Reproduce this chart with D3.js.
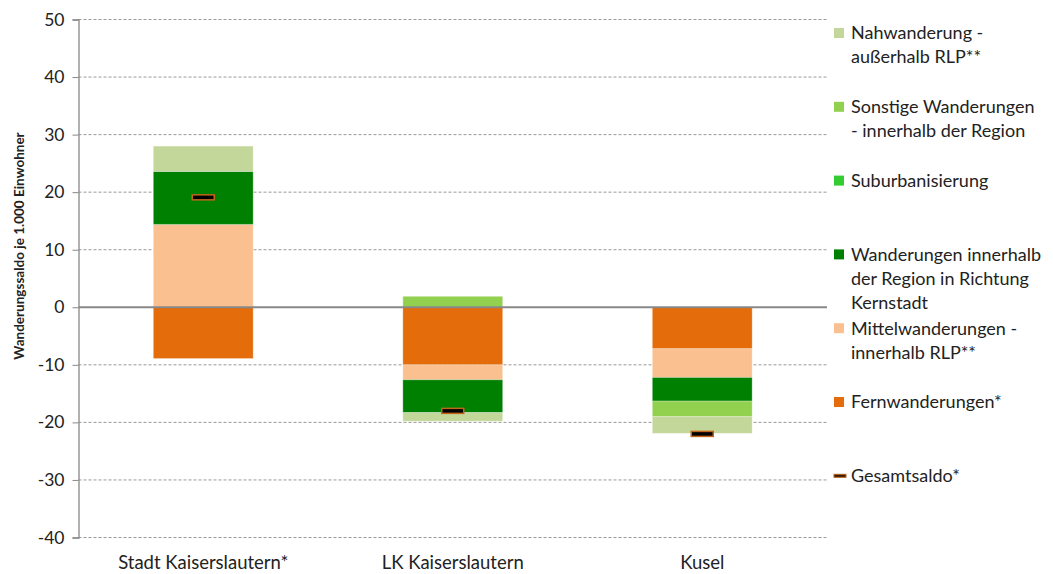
<!DOCTYPE html>
<html>
<head>
<meta charset="utf-8">
<script src="https://cdn.jsdelivr.net/npm/d3@7"></script>
<style>
  body { margin: 0; background: #fff; }
  svg { display: block; font-family: Lato, "Open Sans", sans-serif; }
</style>
</head>
<body>
<svg id="chart" width="1053" height="574"></svg>
<script>
// ---- data ----
const categories = ["Stadt Kaiserslautern*", "LK Kaiserslautern", "Kusel"];
const fernwanderungen   = [-8.9, -10.0, -7.2];
const mittelwanderungen = [14.4, -2.6, -5.0];
const wanderungenRegion = [9.2, -5.7, -4.1];
const suburbanisierung  = [0, 0, 0];
const sonstigeWanderung = [0, 1.9, -2.7];
const nahwanderung      = [4.4, -1.5, -2.9];
const gesamtsaldo       = [19.1, -18.0, -22.0];
const yTicks = [-40, -30, -20, -10, 0, 10, 20, 30, 40, 50];

const seriesKeys = ["fern", "mittel", "wir", "suburb", "sonstige", "nah"];
const seriesColors = {
  fern: "#E46C0A", mittel: "#FAC090", wir: "#008000",
  suburb: "#33CC33", sonstige: "#92D050", nah: "#C4D79B"
};
const legendItems = [
  { key: "nah", lines: ["Nahwanderung -", "außerhalb RLP**"] },
  { key: "sonstige", lines: ["Sonstige Wanderungen", "- innerhalb der Region"] },
  { key: "suburb", lines: ["Suburbanisierung"] },
  { key: "wir", lines: ["Wanderungen innerhalb", "der Region in Richtung", "Kernstadt"] },
  { key: "mittel", lines: ["Mittelwanderungen -", "innerhalb RLP**"] },
  { key: "fern", lines: ["Fernwanderungen*"] },
  { key: "gesamt", lines: ["Gesamtsaldo*"] }
];

const table = categories.map((c, i) => ({
  cat: c,
  fern: fernwanderungen[i], mittel: mittelwanderungen[i], wir: wanderungenRegion[i],
  suburb: suburbanisierung[i], sonstige: sonstigeWanderung[i], nah: nahwanderung[i],
  gesamt: gesamtsaldo[i]
}));

// ---- layout ----
const svg = d3.select("#chart");
const plot = { left: 78.5, right: 827, top: 19.5, bottom: 537.5 };

const x = d3.scaleBand().domain(categories).range([plot.left, plot.right])
  .paddingInner(0.6).paddingOuter(0.3);
const y = d3.scaleLinear().domain([-40, 50]).range([plot.bottom, plot.top]);

// gridlines
svg.append("g").selectAll("line").data(yTicks.filter(t => t !== 0)).join("line")
  .attr("x1", plot.left).attr("x2", plot.right)
  .attr("y1", d => y(d)).attr("y2", d => y(d))
  .attr("stroke", "#999").attr("stroke-width", 1).attr("stroke-dasharray", "3,2");

// y axis
const yAxis = d3.axisLeft(y).tickValues(yTicks).tickSize(6).tickPadding(8)
  .tickFormat(d => String(d));
const gy = svg.append("g").attr("transform", `translate(${plot.left},0)`).call(yAxis);
gy.select(".domain").attr("stroke", "#888").attr("stroke-width", 1.3);
gy.selectAll(".tick line").attr("stroke", "#888");
gy.selectAll(".tick text").attr("font-size", 17.5).attr("fill", "#222")
  .attr("font-family", "Lato, sans-serif");

// stacked bars
const stack = d3.stack().keys(seriesKeys).offset(d3.stackOffsetDiverging);
const stacked = stack(table);
svg.append("g").selectAll("g").data(stacked).join("g")
  .attr("fill", d => seriesColors[d.key])
  .selectAll("rect").data(d => d).join("rect")
  .attr("x", d => x(d.data.cat))
  .attr("width", x.bandwidth())
  .attr("y", d => y(Math.max(d[0], d[1])))
  .attr("height", d => Math.abs(y(d[0]) - y(d[1])))
  .attr("stroke", "#fff").attr("stroke-opacity", 0.25).attr("stroke-width", 1);

// zero line
svg.append("line")
  .attr("x1", plot.left).attr("x2", plot.right)
  .attr("y1", y(0)).attr("y2", y(0))
  .attr("stroke", "#888").attr("stroke-width", 2);

// gesamtsaldo markers
svg.append("g").selectAll("rect").data(table).join("rect")
  .attr("x", d => x(d.cat) + x.bandwidth() / 2 - 11)
  .attr("y", d => y(d.gesamt) - 2.5)
  .attr("width", 22).attr("height", 5)
  .attr("fill", "#000").attr("stroke", "#C0651A").attr("stroke-width", 1.5);

// category labels
svg.append("g").selectAll("text").data(categories).join("text")
  .attr("x", d => x(d) + x.bandwidth() / 2)
  .attr("y", 569)
  .attr("text-anchor", "middle")
  .attr("font-size", 18.5).attr("fill", "#222")
  .text(d => d);

// y title
svg.append("text")
  .attr("transform", `translate(24,246) rotate(-90)`)
  .attr("text-anchor", "middle")
  .attr("font-size", 13.5).attr("font-weight", "bold").attr("fill", "#222")
  .text("Wanderungssaldo je 1.000 Einwohner");

// legend
const legend = svg.append("g");
const legStart = 33, legStep = 73.8, lineH = 24;
legendItems.forEach((it, i) => {
  const cy = legStart + i * legStep;
  if (it.key === "gesamt") {
    legend.append("rect").attr("x", 834).attr("y", cy - 1.5).attr("width", 12).attr("height", 3)
      .attr("fill", "#3a1a00").attr("stroke", "#B8651E").attr("stroke-width", 1);
  } else {
    legend.append("rect").attr("x", 834).attr("y", cy - 5).attr("width", 10).attr("height", 10)
      .attr("fill", seriesColors[it.key]);
  }
  const t = legend.append("text").attr("font-size", 18).attr("fill", "#222");
  it.lines.forEach((ln, j) => {
    t.append("tspan").attr("x", 851).attr("y", cy + j * lineH)
      .attr("dy", "0.35em").text(ln);
  });
});
</script>
</body>
</html>
